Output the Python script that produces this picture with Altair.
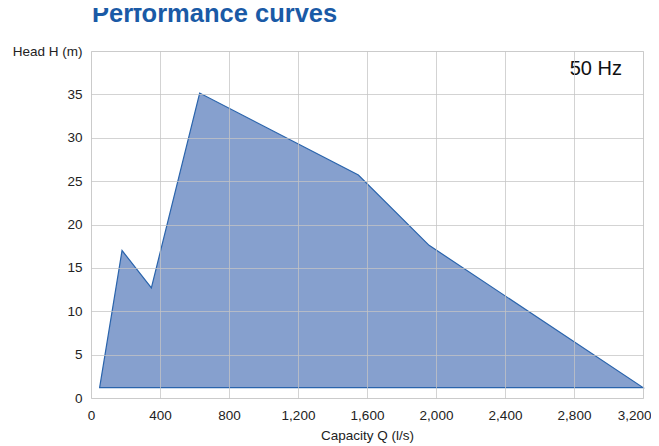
import altair as alt
import pandas as pd

capacity = [50, 180, 350, 630, 1550, 1960, 3200]
head = [1.2, 17.0, 12.7, 35.15, 25.7, 17.6, 1.2]
base_head = [1.2] * len(capacity)

x_ticks = [0, 400, 800, 1200, 1600, 2000, 2400, 2800, 3200]
y_ticks = [0, 5, 10, 15, 20, 25, 30, 35, 40]

df = pd.DataFrame({"Q": capacity, "H": head, "B": base_head})

FONT = "Liberation Sans"

x_enc = alt.X(
    "Q:Q",
    scale=alt.Scale(domain=[0, 3200], nice=False),
    axis=alt.Axis(
        values=x_ticks, format=",d", title="Capacity Q (l/s)", ticks=False,
        labelPadding=10, titlePadding=7, gridColor="#c4c4c4", gridOpacity=0.75,
        domain=False, labelFontSize=13.5, titleFontSize=13.5, titleFontWeight="normal",
        labelColor="#222", titleColor="#222", labelFont=FONT, titleFont=FONT,
        labelFlush=False,
        labelAlign=alt.ExprRef("datum.value == 3200 ? 'right' : 'center'"),
        labelOffset=alt.ExprRef("datum.value == 3200 ? 8 : 0"),
        zindex=1,
    ),
)
y_enc = alt.Y(
    "H:Q",
    scale=alt.Scale(domain=[0, 40], nice=False),
    axis=alt.Axis(
        values=y_ticks, title=None, ticks=False, labelPadding=9,
        labelExpr="datum.value == 40 ? 'Head H (m)' : datum.label",
        gridColor="#c4c4c4", gridOpacity=0.75, domain=False,
        labelFontSize=13.5, labelColor="#222", labelFont=FONT, zindex=1,
    ),
)

area = alt.Chart(df).mark_area(
    fill="#7f9bcb", fillOpacity=0.95, stroke="#2a64ac", strokeWidth=1.2,
).encode(x=x_enc, y=y_enc, y2="B:Q")

hz = alt.Chart(pd.DataFrame({"t": ["50 Hz"]})).mark_text(
    align="right", baseline="alphabetic", fontSize=20, font=FONT, color="#111",
).encode(text="t:N", x=alt.value(531), y=alt.value(24))

title = alt.Chart(pd.DataFrame({"t": ["Performance curves"]})).mark_text(
    align="left", baseline="alphabetic", fontSize=25.5, fontWeight="bold", font=FONT,
    color="#1a5aa6",
).encode(text="t:N", x=alt.value(1), y=alt.value(-29))

chart = alt.layer(area, hz, title).properties(
    width=552, height=347,
    autosize=alt.AutoSizeParams(type="none"),
    padding={"left": 83, "top": 43, "right": 8, "bottom": 52},
).configure_view(
    fill="#ededed", stroke="#a9a9a9", strokeWidth=1,
).configure(background="white")

chart.save("out.html", embed_options={"renderer": "svg", "actions": False})
